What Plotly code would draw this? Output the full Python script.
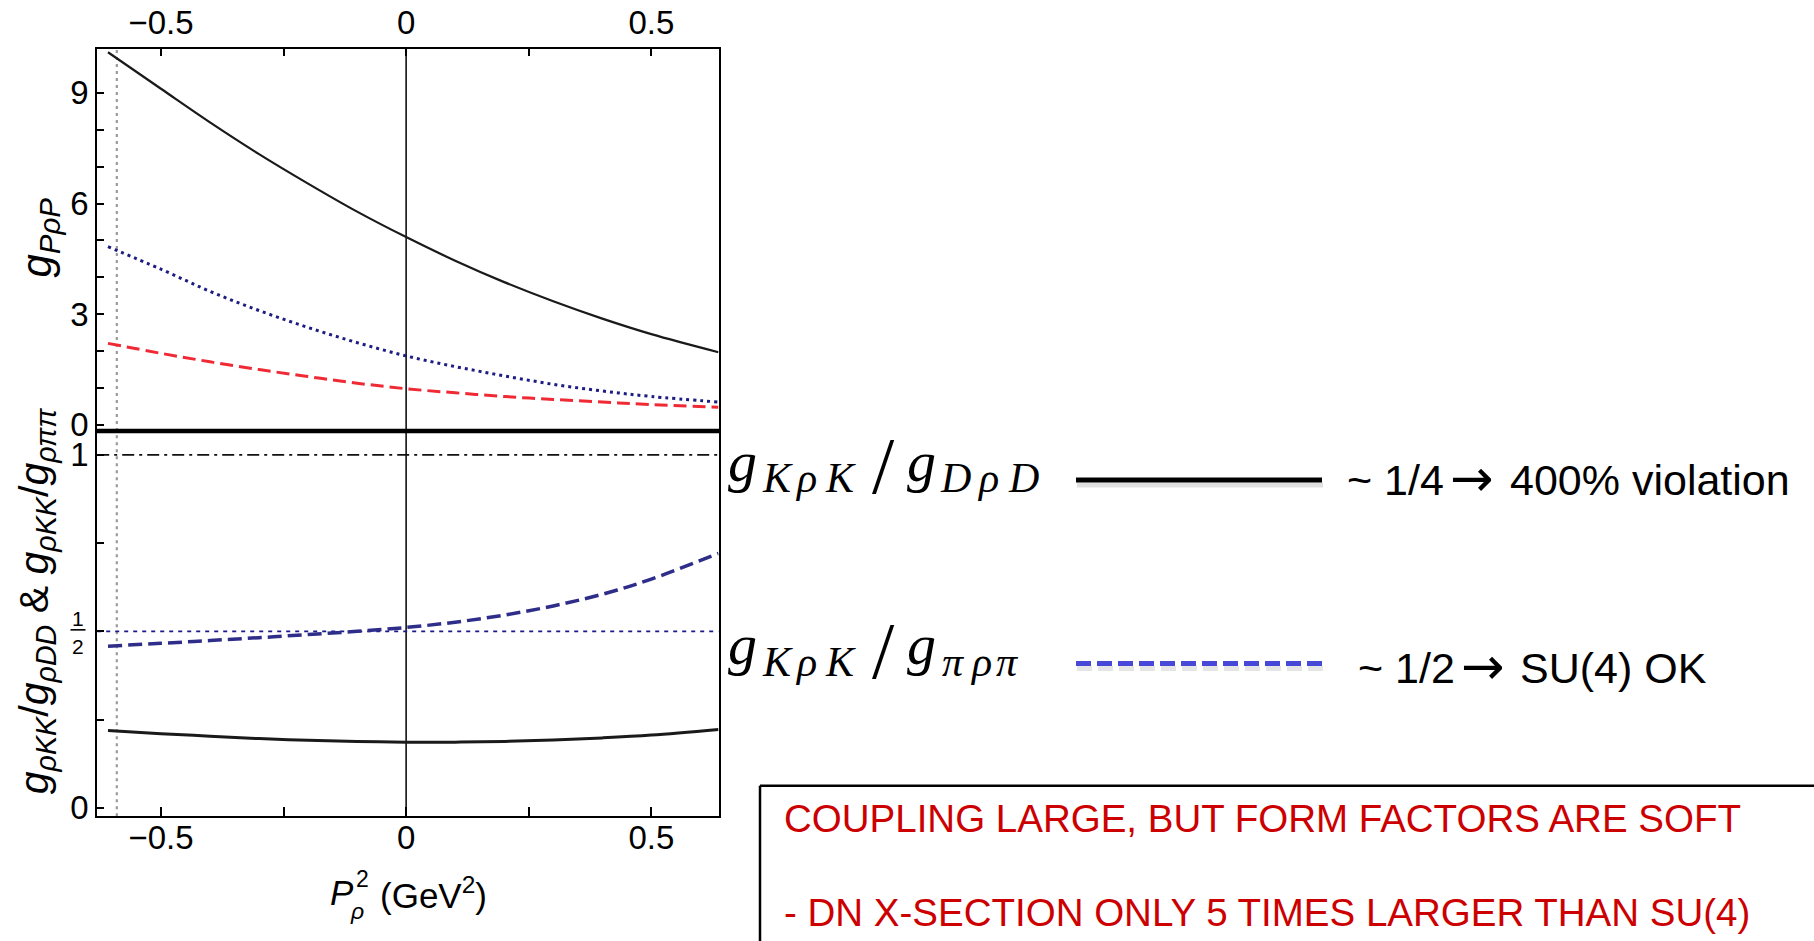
import plotly.graph_objects as go

W, H = 1814, 941          # reference picture size
FIG_H = 955               # page height used (picture is rescaled to 941 tall)

# ---------------- data ----------------
x_grid = [-0.608, -0.5, -0.4, -0.3, -0.2, -0.1, 0.0, 0.1, 0.2, 0.3, 0.4, 0.5, 0.637]
# upper panel: g_{P rho P}
g_black = [10.1, 9.11, 8.20, 7.34, 6.54, 5.78, 5.09, 4.45, 3.87, 3.35, 2.88, 2.46, 1.97]
g_blue = [4.83, 4.22, 3.62, 3.10, 2.64, 2.23, 1.87, 1.58, 1.33, 1.10, 0.92, 0.77, 0.62]
g_red = [2.21, 1.94, 1.71, 1.50, 1.31, 1.13, 0.98, 0.87, 0.77, 0.69, 0.62, 0.55, 0.48]
# lower panel: ratios
ratio_KD = [0.219, 0.210, 0.203, 0.196, 0.191, 0.188, 0.186, 0.186, 0.188, 0.192, 0.198, 0.206, 0.222]
ratio_Kpi = [0.458, 0.466, 0.474, 0.482, 0.491, 0.500, 0.511, 0.526, 0.546, 0.572, 0.605, 0.648, 0.721]

x_range = [-0.63, 0.637]
y_up_range = [-0.163, 10.196]
y_lo_range = [-0.024, 1.068]
ref_lower = [1.0, 0.5]          # horizontal reference levels in lower panel
ref_v_zero = 0.0                # vertical axis line
ref_v_mass = -0.59              # gray dotted vertical line

x_ticks = [-0.5, 0.0, 0.5]
x_ticktext = ["\u22120.5", "0", "0.5"]
x_minor = [-0.25, 0.25]
yu_ticks = [0, 3, 6, 9]
yu_minor = [1, 2, 4, 5, 7, 8]
yl_ticks = [0, 1]
yl_minor = [0.25, 0.5, 0.75]


def PX(x):
    return x / W


def PY(y):
    return 1 - y / H


SANS = "Liberation Sans, Arial, Helvetica, sans-serif"
SERIF = "Liberation Serif, Times New Roman, serif"
ARROWF = "DejaVu Sans, sans-serif"

fig = go.Figure()

# upper panel curves
fig.add_trace(go.Scatter(x=x_grid, y=g_black, mode="lines", line=dict(color="#1a1a1a", width=2.2, shape="spline"),
                         xaxis="x2", yaxis="y2"))
fig.add_trace(go.Scatter(x=x_grid, y=g_blue, mode="lines",
                         line=dict(color="#1c1c82", width=3, dash="3px,4px", shape="spline"),
                         xaxis="x2", yaxis="y2"))
fig.add_trace(go.Scatter(x=x_grid, y=g_red, mode="lines",
                         line=dict(color="#f02a35", width=3, dash="13px,6px", shape="spline"),
                         xaxis="x2", yaxis="y2"))

# lower panel reference lines
fig.add_trace(go.Scatter(x=x_range, y=[ref_lower[0]] * 2, mode="lines",
                         line=dict(color="#111111", width=1.6, dash="12px,5px,3px,5px"),
                         xaxis="x", yaxis="y"))
fig.add_trace(go.Scatter(x=x_range, y=[ref_lower[1]] * 2, mode="lines",
                         line=dict(color="#1a1a8a", width=1.6, dash="4px,5px"),
                         xaxis="x", yaxis="y"))
# lower panel curves
fig.add_trace(go.Scatter(x=x_grid, y=ratio_Kpi, mode="lines",
                         line=dict(color="#2e2e8a", width=3.5, dash="14px,6px", shape="spline"),
                         xaxis="x", yaxis="y"))
fig.add_trace(go.Scatter(x=x_grid, y=ratio_KD, mode="lines",
                         line=dict(color="#1a1a1a", width=3, shape="spline"),
                         xaxis="x", yaxis="y"))

tickfont = dict(family=SANS, size=33, color="black")
axis_common = dict(showgrid=False, zeroline=False, showline=True, linecolor="black", linewidth=2,
                   mirror=True, ticks="inside", tickcolor="black", tickwidth=1.5, tickfont=tickfont)
xdom = [PX(97.2), PX(718.5)]

fig.update_layout(
    width=W, height=FIG_H,
    margin=dict(l=0, r=0, t=0, b=0),
    paper_bgcolor="white", plot_bgcolor="white",
    showlegend=False,
    xaxis=dict(domain=xdom, range=x_range, anchor="y", tickvals=x_ticks, ticktext=x_ticktext, ticklen=9,
               ticklabelstandoff=-9,
               minor=dict(tickvals=x_minor, ticks="inside", ticklen=9, tickcolor="black", tickwidth=1.5),
               **axis_common),
    xaxis2=dict(domain=xdom, range=x_range, anchor="y2", side="top", matches="x", tickvals=x_ticks,
                ticktext=x_ticktext, ticklen=7,
                minor=dict(tickvals=x_minor, ticks="inside", ticklen=7, tickcolor="black", tickwidth=1.5),
                **axis_common),
    yaxis=dict(domain=[PY(814.5), PY(430)], range=y_lo_range, anchor="x", tickvals=yl_ticks, ticklen=7,
               minor=dict(tickvals=yl_minor, ticks="inside", ticklen=7, tickcolor="black", tickwidth=1.5),
               **axis_common),
    yaxis2=dict(domain=[PY(430), PY(48.6)], range=y_up_range, anchor="x2", tickvals=yu_ticks, ticklen=7,
                minor=dict(tickvals=yu_minor, ticks="inside", ticklen=7, tickcolor="black", tickwidth=1.5),
                **axis_common),
)

shapes = []
# vertical reference lines in both panels
for yr in ["y domain", "y2 domain"]:
    xr = "x" if yr == "y domain" else "x2"
    shapes.append(dict(type="line", xref=xr, yref=yr, x0=ref_v_zero, x1=ref_v_zero, y0=0, y1=1,
                       line=dict(color="#111111", width=1.6), layer="below"))
    shapes.append(dict(type="line", xref=xr, yref=yr, x0=ref_v_mass, x1=ref_v_mass, y0=0, y1=1,
                       line=dict(color="#9a9a9a", width=2.2, dash="3px,4px"), layer="below"))
# thick divider between panels
shapes.append(dict(type="line", xref="paper", yref="paper", x0=PX(96), x1=PX(719.5), y0=PY(430), y1=PY(430),
                   line=dict(color="black", width=4.5)))
# fraction bar for 1/2 tick label
shapes.append(dict(type="line", xref="paper", yref="paper", x0=PX(70.5), x1=PX(85.5), y0=PY(628.5), y1=PY(628.5),
                   line=dict(color="black", width=1.6)))
# legend samples on the right
shapes.append(dict(type="line", xref="paper", yref="paper", x0=PX(1077), x1=PX(1323), y0=PY(484), y1=PY(484),
                   line=dict(color="rgba(0,0,0,0.12)", width=5)))
shapes.append(dict(type="line", xref="paper", yref="paper", x0=PX(1076), x1=PX(1322), y0=PY(479), y1=PY(479),
                   line=dict(color="black", width=5)))
shapes.append(dict(type="line", xref="paper", yref="paper", x0=PX(1077), x1=PX(1324), y0=PY(667), y1=PY(667),
                   line=dict(color="rgba(0,0,0,0.10)", width=5, dash="15px,6px")))
shapes.append(dict(type="line", xref="paper", yref="paper", x0=PX(1076), x1=PX(1324), y0=PY(662), y1=PY(662),
                   line=dict(color="#4848d8", width=5, dash="15px,6px")))
# text box (left and top edges; the rest runs off the picture)
shapes.append(dict(type="line", xref="paper", yref="paper", x0=PX(760), x1=PX(1814), y0=PY(784), y1=PY(784),
                   line=dict(color="black", width=2.5)))
shapes.append(dict(type="line", xref="paper", yref="paper", x0=PX(760), x1=PX(760), y0=PY(784), y1=0,
                   line=dict(color="black", width=2.5)))
fig.update_layout(shapes=shapes)

ann = []


def add_text(text, x, y, size, family=SANS, color="black", xanchor="center", yanchor="middle", angle=0):
    ann.append(dict(text=text, x=PX(x), y=PY(y), xref="paper", yref="paper", showarrow=False,
                    xanchor=xanchor, yanchor=yanchor, textangle=angle,
                    font=dict(family=family, size=size, color=color)))


# fraction 1/2 tick label
add_text("1", 78, 617, 21)
add_text("2", 78, 645, 21)

# axis titles
add_text("<i>g</i><sub><i>P\u03c1P</i></sub>", 40, 237, 42, angle=-90)
add_text("<i>g</i><sub><i>\u03c1KK</i></sub>/<i>g</i><sub><i>\u03c1DD</i></sub> &amp; "
         "<i>g</i><sub><i>\u03c1KK</i></sub>/<i>g</i><sub><i>\u03c1\u03c0\u03c0</i></sub>", 37, 600, 41, angle=-90)
add_text("<i>P</i>", 328, 891, 35, xanchor="left")
add_text("2", 362, 877, 23)
add_text("<i>\u03c1</i>", 357, 909, 23)
add_text("(GeV<sup>2</sup>)", 378, 891, 35, xanchor="left")


# math labels on the right, glyph by glyph
def math_label(g_base, sub_base, slash_mid, subs2):
    main, sub, sl = 58, 42, 80
    add_text("<i>g</i>", 742, g_base - 0.3375 * main, main, family=SERIF)
    add_text("<i>g</i>", 921, g_base - 0.3375 * main, main, family=SERIF)
    add_text("/", 883, slash_mid, sl, family=SERIF)
    for ch, cx in [("K", 777), ("\u03c1", 806), ("K", 840)] + subs2:
        add_text("<i>%s</i>" % ch, cx, sub_base - 0.3375 * sub, sub, family=SERIF)


math_label(480, 491, 465, [("D", 956), ("\u03c1", 988), ("D", 1023)])
math_label(663, 675, 650, [("\u03c0", 953), ("\u03c1", 981), ("\u03c0", 1007)])

TS = 43
add_text("~ 1/4", 1345, 479, TS, xanchor="left")
add_text("\u2192", 1472, 477, 52, family=ARROWF)
add_text("400% violation", 1508, 479, TS, xanchor="left")
add_text("~ 1/2", 1356, 667, TS, xanchor="left")
add_text("\u2192", 1483, 665, 52, family=ARROWF)
add_text("SU(4) OK", 1518, 667, TS, xanchor="left")

add_text("COUPLING LARGE, BUT FORM FACTORS ARE SOFT", 782, 817, 38.5, color="#cc0000", xanchor="left")
add_text("- DN X-SECTION ONLY 5 TIMES LARGER THAN SU(4)", 782, 911, 38.5, color="#cc0000", xanchor="left")

fig.update_layout(annotations=ann)

fig.write_html("out.html", config={"displayModeBar": False},
               post_script="document.body.style.margin='0px';document.body.style.overflow='hidden';")
